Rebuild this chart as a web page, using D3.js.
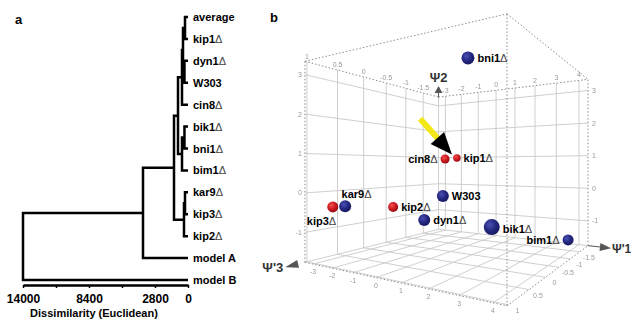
<!DOCTYPE html>
<html>
<head>
<meta charset="utf-8">
<script src="https://cdn.jsdelivr.net/npm/d3@7"></script>
<style>
  html, body { margin: 0; padding: 0; background: #fff; }
  svg { display: block; font-family: "Liberation Sans", Arial, sans-serif; }
</style>
</head>
<body>
<svg id="fig" width="631" height="320"></svg>
<script>
// ---------- panel a : hierarchical clustering ----------
const leafNames = ['average', 'kip1Δ', 'dyn1Δ', 'W303', 'cin8Δ', 'bik1Δ', 'bni1Δ',
  'bim1Δ', 'kar9Δ', 'kip3Δ', 'kip2Δ', 'model A', 'model B'];
// linkage rows: [child, child, height]; new clusters get ids 13, 14, ...
const merges = [
  [0, 1, 255],
  [2, 3, 300],
  [13, 14, 424],
  [15, 4, 509],
  [5, 6, 300],
  [17, 7, 509],
  [16, 18, 848],
  [8, 9, 255],
  [20, 10, 340],
  [19, 21, 1188],
  [22, 11, 3818],
  [23, 12, 14000]
];
const distTicks = [14000, 11200, 8400, 5600, 2800, 0];
const distLabels = [14000, 8400, 2800, 0];

// ---------- panel b : strains in 3D component space ----------
const strainNames = ['bni1Δ', 'cin8Δ', 'kip1Δ', 'kip3Δ', 'kar9Δ', 'kip2Δ', 'W303', 'dyn1Δ', 'bik1Δ', 'bim1Δ'];
const strainGroup = ['other', 'kinesin', 'kinesin', 'kinesin', 'other', 'kinesin', 'other', 'other', 'other', 'other'];
const psi1 = [1.63, -0.52, -1.90, -2.14, -2.80, -1.28, 0.30, -0.30, 3.45, 3.89];
const psi2 = [3.35, 0.89, 0.97, -0.31, -0.39, -0.41, -0.12, -0.76, -0.54, -1.47];
const psi3 = [0.01, -0.64, -1.78, 0.98, 0.57, 0.22, -0.14, -0.01, 0.66, -1.53];
const psi1Domain = [-3.45, 4.38];
const psi2Domain = [-1.76, 3.34];
const psi3Domain = [-2.0, 1.03];
const psi1Ticks = [-3, -2, -1, 0, 1, 2, 3, 4];
const psi2Ticks = [-1, 0, 1, 2, 3];
const psi3Ticks = [1, 0.5, 0, -0.5, -1, -1.5];

const svg = d3.select('#fig');
svg.append('rect').attr('width', 631).attr('height', 320).attr('fill', '#fff');
const defs = svg.append('defs');
// offscreen pass so the tiny grey tick text is drawn without colour fringes
defs.append('filter').attr('id', 'flat').append('feOffset').attr('dx', 0).attr('dy', 0);

// label with a thin delta
function addName(sel, name) {
  if (name.endsWith('Δ')) {
    sel.text(name.slice(0, -1));
    sel.append('tspan').attr('font-weight', 400).attr('fill', '#444').text('Δ');
  } else {
    sel.text(name);
  }
}

// ================= panel a =================
const ga = svg.append('g');
const yLeaf = d3.scalePoint().domain(leafNames).range([17, 280]);
const xDist = d3.scaleLinear().domain([14000, 0]).range([23, 188]);

const nodes = leafNames.map(n => ({ y: yLeaf(n), h: 0 }));
merges.forEach(([i, j, h]) => {
  nodes.push({ y: (nodes[i].y + nodes[j].y) / 2, h: h, kids: [i, j] });
});

const tree = d3.path();
nodes.forEach(n => {
  if (!n.kids) return;
  const [p, q] = n.kids.map(k => nodes[k]);
  tree.moveTo(xDist(p.h), p.y);
  tree.lineTo(xDist(n.h), p.y);
  tree.lineTo(xDist(n.h), q.y);
  tree.lineTo(xDist(q.h), q.y);
});
ga.append('path').attr('d', tree.toString())
  .attr('fill', 'none').attr('stroke', '#000').attr('stroke-width', 2.5);

ga.selectAll('text.leaf').data(leafNames).enter().append('text')
  .attr('class', 'leaf')
  .attr('x', 193).attr('y', d => yLeaf(d) + 4)
  .attr('font-size', 11).attr('font-weight', 700)
  .each(function(d) { addName(d3.select(this), d); });

const axisA = ga.append('g').attr('transform', 'translate(0,285)')
  .call(d3.axisBottom(xDist).tickValues(distTicks).tickSizeInner(3).tickSizeOuter(0).tickPadding(6)
    .tickFormat(d => distLabels.includes(d) ? d : ''));
axisA.select('.domain').attr('stroke-width', 2.5);
axisA.selectAll('.tick line').attr('stroke-width', 1.5);
axisA.selectAll('.tick text').attr('font-size', 12).attr('font-weight', 700)
  .attr('font-family', '"Liberation Sans", Arial, sans-serif').attr('fill', '#000');

ga.append('text').attr('x', 94).attr('y', 317).attr('text-anchor', 'middle')
  .attr('font-size', 11).attr('font-weight', 700).text('Dissimilarity (Euclidean)');

ga.append('text').attr('x', 15).attr('y', 24).attr('font-size', 13).attr('font-weight', 700).text('a');

// ================= panel b =================
const gb = svg.append('g');
gb.append('text').attr('x', 270).attr('y', 22).attr('font-size', 13).attr('font-weight', 700).text('b');

// fractions inside the box, measured from the front corner
const sa = d3.scaleLinear().domain([psi1Domain[1], psi1Domain[0]]).range([0, 1]);
const sc = d3.scaleLinear().domain([psi3Domain[1], psi3Domain[0]]).range([0, 1]);
const sh = d3.scaleLinear().domain(psi2Domain).range([0, 1]);

// simple two-point perspective camera
const cam = { cx: 447, cy: 166, f: 382, eye: 0.479,
  x0: 0.2054, z0: 1.308, ax: -0.912, az: 0.592, wx: 0.6426, wz: 0.989 };

function project(p1, p2, p3) {
  const a = sa(p1), c = sc(p3), h = sh(p2);
  const X = cam.x0 + cam.ax * a + cam.wx * c;
  const Z = cam.z0 + cam.az * a + cam.wz * c;
  return [cam.cx + cam.f * X / Z, cam.cy + cam.f * (cam.eye - h) / Z, Z];
}
const seg = d3.line();
const draw3 = pts => seg(pts.map(p => project(...p).slice(0, 2)));

const [u0, u1] = psi1Domain, [v0, v1] = psi2Domain, [w0, w1] = psi3Domain;

// back walls and floor grid
const grid = [];
psi1Ticks.forEach(u => {
  grid.push([[u, v0, w1], [u, v0, w0]]);
  grid.push([[u, v0, w0], [u, v1, w0]]);
});
psi3Ticks.forEach(w => {
  grid.push([[u0, v0, w], [u1, v0, w]]);
  grid.push([[u0, v0, w], [u0, v1, w]]);
});
psi2Ticks.forEach(v => {
  grid.push([[u0, v, w1], [u0, v, w0]]);
  grid.push([[u0, v, w0], [u1, v, w0]]);
});
grid.push([[u0, v0, w0], [u0, v1, w0]], [[u0, v0, w1], [u0, v0, w0]], [[u0, v0, w0], [u1, v0, w0]]);

gb.append('g').selectAll('path').data(grid).enter().append('path')
  .attr('d', draw3).attr('fill', 'none').attr('stroke', '#c9c9c9').attr('stroke-width', 0.9);

// box outline
const edges = [
  [[u0, v0, w1], [u0, v1, w1]],
  [[u1, v0, w0], [u1, v1, w0]],
  [[u1, v0, w1], [u1, v1, w1]],
  [[u0, v1, w1], [u0, v1, w0]],
  [[u0, v1, w0], [u1, v1, w0]],
  [[u0, v1, w1], [u1, v1, w1]],
  [[u1, v1, w1], [u1, v1, w0]],
  [[u0, v0, w1], [u1, v0, w1]],
  [[u1, v0, w1], [u1, v0, w0]]
];
gb.append('g').selectAll('path').data(edges).enter().append('path')
  .attr('d', draw3).attr('fill', 'none').attr('stroke', '#8c8c8c')
  .attr('stroke-width', 1).attr('stroke-dasharray', '1.5,2');

// tick labels
const tickG = gb.append('g').attr('font-size', 7).attr('filter', 'url(#flat)');
function tickText(list, at, dx, dy, anchor) {
  list.forEach(t => {
    const [x, y] = at(t);
    tickG.append('text').attr('x', x + dx).attr('y', y + dy)
      .attr('text-anchor', anchor).attr('fill', '#999').text(t);
  });
}
tickText(psi2Ticks, v => project(u0, v, w1), -3, 2.5, 'end');
tickText(psi2Ticks, v => project(u1, v, w0), 4, 2.5, 'start');
tickText(psi1Ticks, u => project(u, v0, w1), 0, 10, 'middle');
tickText(psi1Ticks, u => project(u, v1, w0), 0, -3, 'middle');
tickText(psi3Ticks, w => project(u0, v1, w), 0, -3, 'middle');
tickText(psi3Ticks, w => project(u1, v0, w), 9, 8, 'middle');

// axis arrows
function triangle(base, tip, hw) {
  const dx = tip[0] - base[0], dy = tip[1] - base[1];
  const len = Math.hypot(dx, dy), nx = -dy / len * hw, ny = dx / len * hw;
  return `M${tip[0]},${tip[1]}L${base[0] + nx},${base[1] + ny}L${base[0] - nx},${base[1] - ny}Z`;
}
const arrowCol = '#555';
const ax1 = [project(u1 + 0.49, v0, w0), project(u1 + 0.93, v0, w0)];
const ax3 = [project(u0, v0, w1 + 0.10), project(u0, v0, w1 + 0.28)];
const ax2 = [project(u0, v1 + 0.16, w0), project(u0, v1 + 0.43, w0)];
gb.append('path').attr('d', seg([project(u1, v0, w0), ax1[0]].map(p => p.slice(0, 2))))
  .attr('stroke', arrowCol).attr('stroke-width', 1);
[ax1, ax3, ax2].forEach(([b, t]) => {
  gb.append('path').attr('d', triangle(b, t, 4)).attr('fill', arrowCol);
});
gb.append('path').attr('d', seg([project(u0, v1, w0), ax2[0]].map(p => p.slice(0, 2))))
  .attr('stroke', arrowCol).attr('stroke-width', 1);
const axisLabel = gb.append('g').attr('font-weight', 700).attr('fill', '#333');
axisLabel.append('text').attr('x', ax1[1][0] + 1).attr('y', ax1[1][1] + 5)
  .attr('font-size', 12).text("Ψ'1");
axisLabel.append('text').attr('x', ax3[1][0] - 2).attr('y', ax3[1][1] + 5)
  .attr('font-size', 13).attr('text-anchor', 'end').text("Ψ'3");
axisLabel.append('text').attr('x', ax2[1][0]).attr('y', ax2[1][1] - 4)
  .attr('font-size', 13).attr('text-anchor', 'middle').text('Ψ2');

// sphere markers
const shades = {
  other: ['#4b50b4', '#24277f', '#15175a'],
  kinesin: ['#f05050', '#cc1820', '#8e0c12']
};
Object.entries(shades).forEach(([k, s]) => {
  const g = defs.append('radialGradient').attr('id', 'ball-' + k)
    .attr('cx', '38%').attr('cy', '35%').attr('r', '70%');
  g.append('stop').attr('offset', '0%').attr('stop-color', s[0]);
  g.append('stop').attr('offset', '55%').attr('stop-color', s[1]);
  g.append('stop').attr('offset', '100%').attr('stop-color', s[2]);
});
const markerSize = { other: 12 / 382, kinesin: 10 / 382 };

const pts = strainNames.map((name, i) => {
  const [x, y, z] = project(psi1[i], psi2[i], psi3[i]);
  return { name, group: strainGroup[i], x, y, z, r: cam.f * markerSize[strainGroup[i]] / z };
}).sort((p, q) => q.z - p.z);

gb.append('g').selectAll('circle').data(pts).enter().append('circle')
  .attr('cx', d => d.x).attr('cy', d => d.y).attr('r', d => d.r)
  .attr('fill', d => `url(#ball-${d.group})`);

// label placement (style only)
const labelAt = {
  'bni1Δ': [1, 0, 'start'], 'cin8Δ': [-1, 0, 'end'], 'kip1Δ': [1, 0, 'start'],
  'kip3Δ': [0.4, 2.3, 'end'], 'kar9Δ': [-0.4, -2, 'start'], 'kip2Δ': [1, 0, 'start'],
  'W303': [1, 0, 'start'], 'dyn1Δ': [1, 0, 'start'], 'bik1Δ': [1, 0.3, 'start'],
  'bim1Δ': [-1, 0, 'end']
};
gb.append('g').selectAll('text').data(pts).enter().append('text')
  .attr('x', d => d.x + labelAt[d.name][0] * (d.r + 3))
  .attr('y', d => d.y + 4 + labelAt[d.name][1] * 6)
  .attr('text-anchor', d => labelAt[d.name][2])
  .attr('font-size', 11).attr('font-weight', 700)
  .each(function(d) { addName(d3.select(this), d.name); });

// highlight arrow toward the kinesin pair cin8 / kip1
const pair = pts.filter(p => p.name === 'cin8Δ' || p.name === 'kip1Δ');
const tip = [d3.mean(pair, p => p.x) + 1, d3.mean(pair, p => p.y) - 4];
const dir = [0.664, 0.747];
const headBase = [tip[0] - 22 * dir[0], tip[1] - 22 * dir[1]];
const tail = [tip[0] - 48 * dir[0], tip[1] - 48 * dir[1]];
gb.append('path').attr('d', seg([tail, [headBase[0] + dir[0], headBase[1] + dir[1]]]))
  .attr('stroke', '#f2e81a').attr('stroke-width', 6);
gb.append('path').attr('d', triangle(headBase, tip, 9)).attr('fill', '#000');
</script>
</body>
</html>
